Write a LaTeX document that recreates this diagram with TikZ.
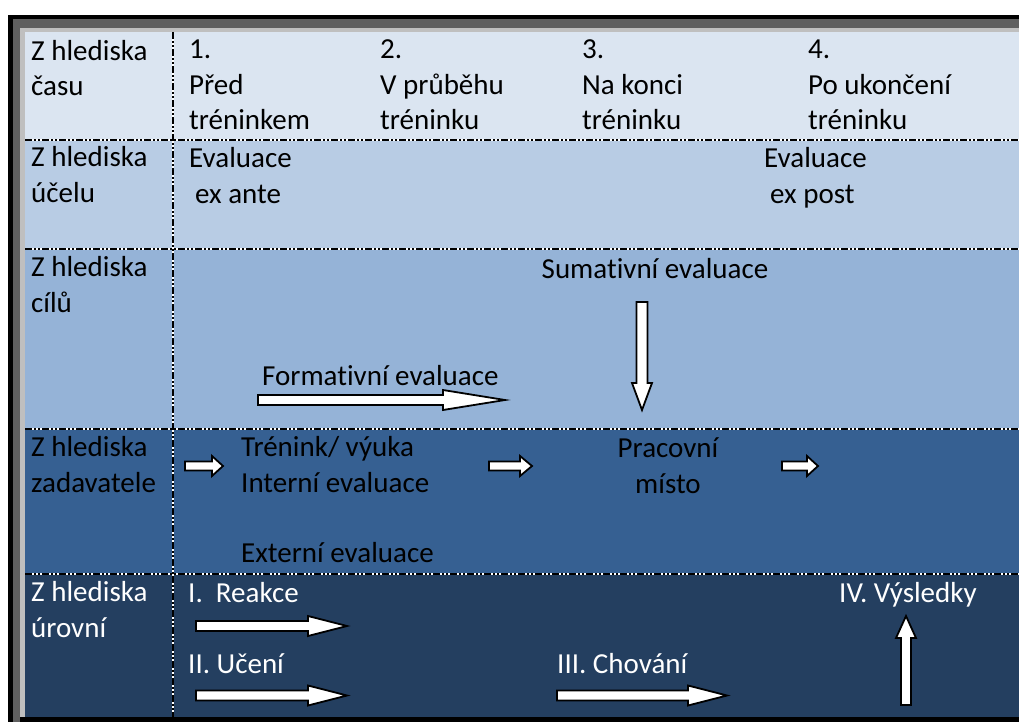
\documentclass[tikz,border=0pt]{standalone}
\usepackage{fontspec}
\setmainfont{Carlito}[Ligatures={NoCommon}]
\usepackage{xcolor}
\usetikzlibrary{positioning}

\definecolor{rowcas}{HTML}{DBE5F1}
\definecolor{rowucel}{HTML}{B8CCE4}
\definecolor{rowcil}{HTML}{95B3D7}
\definecolor{rowzad}{HTML}{366092}
\definecolor{rowuroven}{HTML}{243F60}
\definecolor{framedark}{HTML}{5F5F5F}
\definecolor{framelight}{HTML}{BFBFBF}

% block arrow: start, head start, tip along the arrow; position across; shaft half width
\newcommand{\harrowblock}[5]{%
  \draw[blockarrow] (#1,#4-#5) -- (#2,#4-#5) -- (#2,#4-10) -- (#3,#4)
    -- (#2,#4+10) -- (#2,#4+#5) -- (#1,#4+#5) -- cycle;}
\newcommand{\varrowblock}[5]{%
  \draw[blockarrow] (#1-#5,#2) -- (#1-#5,#3) -- (#1-10,#3) -- (#1,#4)
    -- (#1+10,#3) -- (#1+#5,#3) -- (#1+#5,#2) -- cycle;}
\newcommand{\dashsep}[3][2pt]{%
  \draw[white,line width=#1] #2 -- #3;
  \draw[line width=#1,dash pattern=on 7pt off 2pt on 2pt off 2pt on 2pt off 2pt] #2 -- #3;}

\begin{document}
\begin{tikzpicture}[x=1pt,y=-1pt,font=\fontsize{29}{35.5}\selectfont,
  lab/.style={anchor=base west,inner sep=0pt,align=left},
  labc/.style={anchor=base,inner sep=0pt,align=center},
  blockarrow/.style={fill=white,draw=black,line width=1.8pt,line join=miter}]
\useasboundingbox (0,0) rectangle (1019,722);

% frame
\fill[black] (8,15) rectangle (1030,722);
\fill[framedark] (13,19) rectangle (1030,722);
\fill[black] (20,717) rectangle (1030,722);
\fill[framelight] (20,28) rectangle (1030,717);

% rows
\fill[rowcas] (25,32) rectangle (1030,140);
\fill[rowucel] (25,140) rectangle (1030,249);
\fill[rowcil] (25,249) rectangle (1030,429);
\fill[rowzad] (25,429) rectangle (1030,574);
\fill[rowuroven] (25,574) rectangle (1030,717);

\dashsep{(25,140)}{(1030,140)}
\dashsep{(25,249)}{(1030,249)}
\dashsep{(25,429)}{(1030,429)}
\dashsep{(25,574)}{(1030,574)}
\dashsep[2.6pt]{(173,32)}{(173,717)}

% first column (placed at the baseline of the last line)
\node[lab] (cas) at (31,96) {Z hlediska\\času};
\node[lab] (ucel) at (31,202) {Z hlediska\\účelu};
\node[lab] (cil) at (31,312) {Z hlediska\\cílů};
\node[lab] (zadavatel) at (31,492) {Z hlediska\\zadavatele};
\node[lab,white] (uroven) at (31,637) {Z hlediska\\úrovní};

% time
\node[lab] (pred) at (189,130) {1.\\Před\\tréninkem};
\node[lab] (prubeh) at (380,130) {2.\\V průběhu\\tréninku};
\node[lab] (konec) at (582,130) {3.\\Na konci\\tréninku};
\node[lab] (po) at (808,130) {4.\\Po ukončení\\tréninku};

% purpose
\node[lab] (exante) at (189,203) {Evaluace\\\hspace*{6pt}ex ante};
\node[lab] (expost) at (764,203) {Evaluace\\\hspace*{6pt}ex post};

% aims
\node[labc] (sumativ) at (655,278) {Sumativní evaluace};
\varrowblock{642}{302}{383}{410}{5.5}
\node[lab] (formativ) at (262,385) {Formativní evaluace};
\harrowblock{258}{443}{505}{400}{5}

% client
\harrowblock{185}{212}{223}{466}{4.5}
\node[lab] (trenink) at (241,492) {Trénink/ výuka\\Interní evaluace};
\harrowblock{489}{520}{532}{466}{4.5}
\node[labc] (pracoviste) at (668,493) {Pracovní\\místo};
\harrowblock{782}{807}{818}{466}{4.5}
\node[lab] (externi) at (241,562) {Externí evaluace};

% levels
\node[lab,white] (reakce) at (188,602) {I.\ \ Reakce};
\harrowblock{196}{308}{347}{626}{5}
\node[lab,white] (uceni) at (188,673) {II. Učení};
\harrowblock{196}{308}{347}{695.5}{5}
\node[lab,white] (chovani) at (557,673) {III. Chování};
\harrowblock{557}{688}{727}{695.5}{5}
\node[lab,white] (vysledky) at (839,602) {IV. Výsledky};
\varrowblock{906}{705}{638}{616}{5}
\end{tikzpicture}
\end{document}
